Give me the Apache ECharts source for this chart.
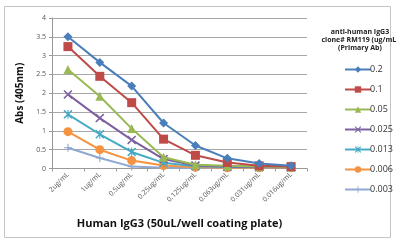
<!DOCTYPE html>
<html>
<head>
<meta charset="utf-8">
<script src="https://cdn.jsdelivr.net/npm/echarts@6/dist/echarts.min.js"></script>
<style>
    html, body { margin: 0; padding: 0; background: #fff; }
    #chart { width: 396px; height: 244px; }
</style>
</head>
<body>
<div id="chart"></div>
<script>
    // coating concentrations (x axis)
    var categories = ['2ug/mL', '1ug/mL', '0.5ug/mL', '0.25ug/mL', '0.125ug/mL', '0.063ug/mL', '0.031ug/mL', '0.016ug/mL']
    var yTicks = [0, 0.5, 1, 1.5, 2, 2.5, 3, 3.5, 4]

    // primary Ab concentrations (legend)
    var seriesNames = ['0.2', '0.1', '0.05', '0.025', '0.013', '0.006', '0.003']
    var ab02 = [3.5, 2.82, 2.19, 1.21, 0.61, 0.27, 0.13, 0.07]
    var ab01 = [3.24, 2.45, 1.75, 0.78, 0.35, 0.16, 0.07, 0.05]
    var ab005 = [2.63, 1.92, 1.06, 0.3, 0.1, 0.07, 0.05, 0.04]
    var ab0025 = [1.97, 1.34, 0.76, 0.25, 0.08, 0.05, 0.04, 0.03]
    var ab0013 = [1.44, 0.91, 0.44, 0.15, 0.06, 0.04, 0.03, 0.03]
    var ab0006 = [0.98, 0.5, 0.21, 0.08, 0.03, 0.02, 0.02, 0.02]
    var ab0003 = [0.55, 0.28, 0.05, 0.02, 0.01, 0.01, 0.01, 0.01]

    var values = [ab02, ab01, ab005, ab0025, ab0013, ab0006, ab0003]
    var colors = ['#4A7EBB', '#BE4B48', '#98B954', '#7D60A0', '#46AAC5', '#F69240', '#8FA8D2']

    var xMark = 'path://M0,1.2 L1.2,0 L5,3.8 L8.8,0 L10,1.2 L6.2,5 L10,8.8 L8.8,10 L5,6.2 L1.2,10 L0,8.8 L3.8,5 Z'
    var plusMark = 'path://M4.3,0 L5.7,0 L5.7,4.3 L10,4.3 L10,5.7 L5.7,5.7 L5.7,10 L4.3,10 L4.3,5.7 L0,5.7 L0,4.3 L4.3,4.3 Z'
    var starMark = 'path://M0,1.2 L1.2,0 L5,3.8 L8.8,0 L10,1.2 L6.2,5 L10,8.8 L8.8,10 L5,6.2 L1.2,10 L0,8.8 L3.8,5 Z M4.4,0 L5.6,0 L5.6,10 L4.4,10 Z'
    var symbols = ['diamond', 'rect', 'triangle', xMark, starMark, 'circle', plusMark]
    var symbolSizes = [9, 9, 9, 9, 9, 9, 8]

    var chart = echarts.init(document.getElementById('chart'))

    chart.setOption({
        animation: false,
        textStyle: { fontFamily: 'Open Sans' },
        graphic: [{
            type: 'rect',
            shape: { x: 4.5, y: 6.5, width: 386, height: 231 },
            style: { fill: 'none', stroke: '#C4C4C4', lineWidth: 1 },
            silent: true
        }],
        title: {
            text: 'anti-human IgG3\nclone# RM119 (ug/mL)\n(Primary Ab)',
            left: 355,
            top: 23,
            textAlign: 'center',
            textStyle: { fontSize: 7, fontWeight: 'bold', color: '#222', lineHeight: 8 }
        },
        legend: {
            data: seriesNames,
            orient: 'vertical',
            left: 339,
            top: 60,
            itemWidth: 26,
            itemHeight: 8,
            itemGap: 11,
            textStyle: { fontSize: 9, color: '#333', padding: [0, 0, 0, -6] }
        },
        grid: {
            left: 52,
            right: 89,
            top: 18,
            bottom: 75.5
        },
        xAxis: {
            type: 'category',
            data: categories,
            boundaryGap: true,
            name: 'Human IgG3 (50uL/well coating plate)',
            nameLocation: 'middle',
            nameGap: 50,
            nameTextStyle: { fontSize: 11, fontWeight: 'bold', color: '#111' },
            axisLine: { lineStyle: { color: '#999' } },
            axisTick: { show: true, length: 3, lineStyle: { color: '#999' } },
            axisLabel: { rotate: 45, fontSize: 7, color: '#555', margin: 5 }
        },
        yAxis: {
            type: 'value',
            min: yTicks[0],
            max: yTicks[yTicks.length - 1],
            interval: 0.5,
            name: 'Abs (405nm)',
            nameLocation: 'middle',
            nameGap: 25,
            nameTextStyle: { fontSize: 10, fontWeight: 'bold', color: '#111' },
            axisLine: { show: true, lineStyle: { color: '#999' } },
            axisTick: { show: true, length: 3, lineStyle: { color: '#999' } },
            axisLabel: { fontSize: 7, color: '#555', margin: 6 },
            splitLine: { lineStyle: { color: '#A8A8A8' } }
        },
        series: seriesNames.map(function (name, i) {
            return {
                name: name,
                type: 'line',
                data: values[i],
                symbol: symbols[i],
                symbolSize: symbolSizes[i],
                showAllSymbol: true,
                lineStyle: { width: 2, color: colors[i] },
                itemStyle: { color: colors[i] },
                z: 10 - i
            }
        })
    })
</script>
</body>
</html>
